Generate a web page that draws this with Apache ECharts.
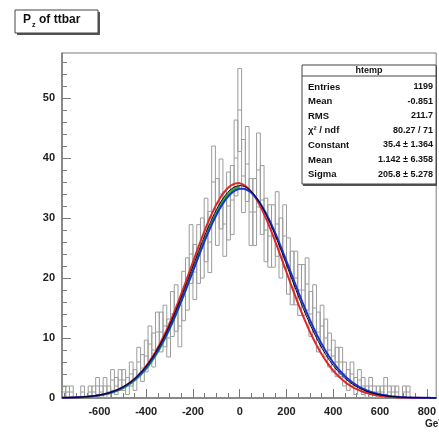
<!DOCTYPE html>
<html><head><meta charset="utf-8">
<script src="https://cdn.jsdelivr.net/npm/echarts@6/dist/echarts.min.js"></script>
<style>html,body{margin:0;padding:0;background:#fff}#c{width:439px;height:432px}</style>
</head><body><div id="c"></div>
<script>
// Histogram: 100 bins of width 16 starting at -760
const binStart = -760;
const binWidth = 16;
const counts = [
  1,1,1,0,0,1,0,1,1,2,
  1,2,1,3,2,3,3,2,4,3,
  6,5,7,9,8,11,11,12,10,14,
  15,12,17,19,24,21,24,25,28,26,
  36,31,34,29,32,33,40,48,37,39,
  31,31,38,33,28,27,27,29,25,27,
  22,20,20,18,18,19,14,15,11,12,
  10,8,7,6,6,4,3,4,2,3,
  2,1,2,1,1,1,2,1,1,1,
  0,1,1,0,0,0,0,0,0,0
];
const xTicks = [-600,-400,-200,0,200,400,600,800];
const xMinorTicks = [-750,-700,-650,-550,-500,-450,-350,-300,-250,-150,-100,-50,50,100,150,250,300,350,450,500,550,650,700,750];
const yTicks = [0,10,20,30,40,50];
const yMinorTicks = [2,4,6,8,12,14,16,18,22,24,26,28,32,34,36,38,42,44,46,48,52,54,56];

// Gaussian fits (green, red, blue, final black)
const fitColors = ['#1fb81f','#e02828','#1a2fd6','#000000'];
const fitConst  = [35.2, 35.8, 34.9, 35.4];
const fitMean   = [4, -8, 8, 1.142];
const fitSigma  = [203, 201, 208, 205.8];
const fitFrom   = [-760, -760, -760, -760];
const fitTo     = [0, 840, 840, 840];
const fitWidth  = [2, 2, 2, 1];

const statsLabels = ['Entries','Mean','RMS','χ² / ndf','Constant','Mean','Sigma'];
const statsValues = ['1199','-0.851','211.7','80.27 / 71','35.4 ± 1.364','1.142 ± 6.358','205.8 ± 5.278'];

const histData = counts.map((v,i)=>[binStart+i*binWidth, binStart+(i+1)*binWidth, v]);

function fitCurve(k){
  const pts=[];
  for(let x=fitFrom[k]; x<=fitTo[k]; x+=4){
    const z=(x-fitMean[k])/fitSigma[k];
    pts.push([x, fitConst[k]*Math.exp(-0.5*z*z)]);
  }
  return pts;
}

const chart = echarts.init(document.getElementById('c'), null, {renderer:'canvas'});
const font = '"Liberation Sans", Arial, sans-serif';
const axisGray = '#7a7a7a';

const series = [{
  type:'custom',
  xAxisIndex:0, yAxisIndex:0,
  clip:true,
  data:histData,
  encode:{x:[0,1], y:2},
  renderItem:function(params, api){
    const lo=api.value(0), hi=api.value(1), v=api.value(2);
    if(v<=0) return null;
    const e=Math.sqrt(v);
    const a=api.coord([lo, v+e]), b=api.coord([hi, Math.max(v-e,0)]);
    const m1=api.coord([lo, v]), m2=api.coord([hi, v]);
    return {type:'group', children:[
      {type:'rect', shape:{x:a[0], y:a[1], width:b[0]-a[0], height:b[1]-a[1]},
       style:{fill:'transparent', stroke:'#9c9c9c', lineWidth:1}},
      {type:'line', shape:{x1:m1[0], y1:m1[1], x2:m2[0], y2:m2[1]},
       style:{stroke:'#9c9c9c', lineWidth:1}}
    ]};
  }
}];
for(let k=0;k<fitColors.length;k++){
  series.push({type:'line', xAxisIndex:0, yAxisIndex:0, data:fitCurve(k), showSymbol:false,
    lineStyle:{color:fitColors[k], width:fitWidth[k]}, silent:true, animation:false, z:3+k});
}

const graphics = [];
// title box
graphics.push({type:'rect', shape:{x:17,y:12,width:83,height:23}, style:{fill:'#555'}});
graphics.push({type:'rect', shape:{x:15,y:10,width:83,height:23}, style:{fill:'#fff', stroke:'#444', lineWidth:1}});
graphics.push({type:'text', x:23, y:14, style:{text:'P', font:'bold 12px '+font, fill:'#111'}});
graphics.push({type:'text', x:32, y:22, style:{text:'z', font:'bold 7px '+font, fill:'#111'}});
graphics.push({type:'text', x:39, y:14, style:{text:'of ttbar', font:'bold 12px '+font, fill:'#111'}});
// stats box
const sx=302, sy=65, sw=134, rowH=14.6;
graphics.push({type:'rect', shape:{x:sx+1,y:sy+1,width:sw,height:120}, style:{fill:'#555'}});
graphics.push({type:'rect', shape:{x:sx,y:sy,width:sw,height:119}, style:{fill:'#fff', stroke:'#444', lineWidth:1}});
graphics.push({type:'line', shape:{x1:sx,y1:sy+11,x2:sx+sw,y2:sy+11}, style:{stroke:'#444', lineWidth:1}});
graphics.push({type:'text', x:sx+sw/2, y:sy+1, style:{text:'htemp', font:'bold 9px '+font, fill:'#111', align:'center'}});
for(let i=0;i<statsLabels.length;i++){
  const yy = sy+17+i*rowH;
  graphics.push({type:'text', x:sx+6, y:yy, style:{text:statsLabels[i], font:'bold 9.5px '+font, fill:'#111'}});
  graphics.push({type:'text', x:sx+sw-3, y:yy, style:{text:statsValues[i], font:'bold 9px '+font, fill:'#111', align:'right'}});
}
// axis title
graphics.push({type:'text', x:425, y:419, style:{text:'GeV', font:'bold 10px '+font, fill:'#222'}});

chart.setOption({
  animation:false,
  backgroundColor:'#fff',
  grid:{left:62, right:-1, top:53, bottom:34, show:true, borderColor:axisGray, borderWidth:1, backgroundColor:'transparent'},
  xAxis:[{
    type:'value', min:-760, max:840, position:'bottom',
    axisLine:{show:true, onZero:false, lineStyle:{color:axisGray, width:1.5}},
    axisTick:{show:true, inside:true, length:9, customValues:xTicks, lineStyle:{color:axisGray}},
    axisLabel:{show:true, customValues:xTicks, margin:8, color:'#222', fontFamily:font, fontWeight:'bold', fontSize:11},
    splitLine:{show:false}
  },{
    type:'value', min:-760, max:840, position:'bottom',
    axisLine:{show:false, onZero:false},
    axisTick:{show:true, inside:true, length:5, customValues:xMinorTicks, lineStyle:{color:axisGray}},
    axisLabel:{show:false},
    splitLine:{show:false}
  }],
  yAxis:[{
    type:'value', min:0, max:57.5, position:'left',
    axisLine:{show:true, onZero:false, lineStyle:{color:axisGray, width:1.5}},
    axisTick:{show:true, inside:true, length:9, customValues:yTicks, lineStyle:{color:axisGray}},
    axisLabel:{show:true, customValues:yTicks, margin:7, color:'#222', fontFamily:font, fontWeight:'bold', fontSize:11},
    splitLine:{show:false}
  },{
    type:'value', min:0, max:57.5, position:'left',
    axisLine:{show:false, onZero:false},
    axisTick:{show:true, inside:true, length:5, customValues:yMinorTicks, lineStyle:{color:axisGray}},
    axisLabel:{show:false},
    splitLine:{show:false}
  }],
  series:series,
  graphic:graphics
});
</script></body></html>
